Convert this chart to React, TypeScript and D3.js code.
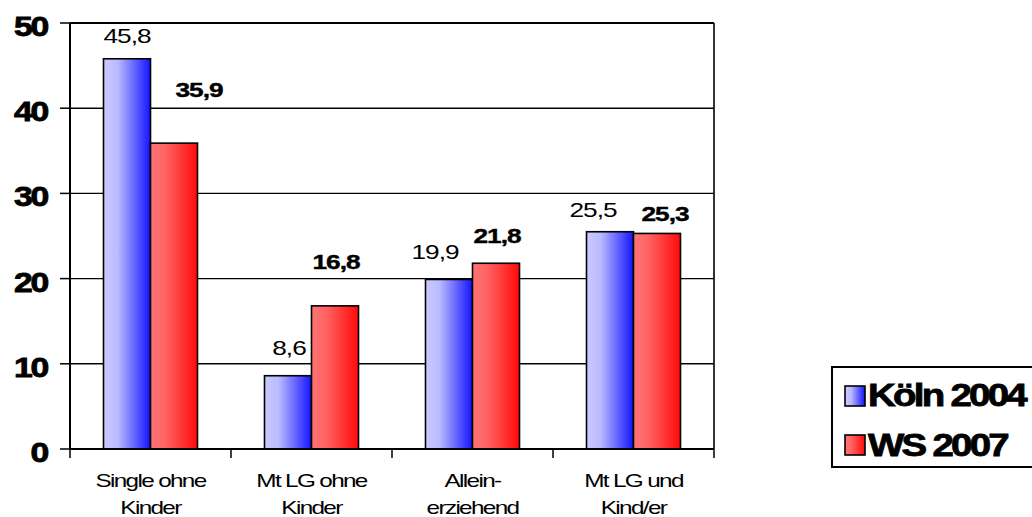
import React from "react";
import * as d3 from "d3";

// Household types and shares (%) per survey
const categories = [
  ["Single ohne", "Kinder"],
  ["Mt LG ohne", "Kinder"],
  ["Allein-", "erziehend"],
  ["Mt LG und", "Kind/er"],
];
const koeln2004 = [45.8, 8.6, 19.9, 25.5];
const ws2007 = [35.9, 16.8, 21.8, 25.3];
const seriesNames = ["Köln 2004", "WS 2007"];
const yTicks = [0, 10, 20, 30, 40, 50];

// Hand-placed value label nudges (px): horizontal shift, gap above bar top
const koelnLabelDx = [0, 1, -14, -17];
const koelnLabelGap = [16, 21, 20, 15];
const wsLabelDx = [25, 1, 1, 8];
const wsLabelGap = [46, 37, 20, 12];

const W = 1032;
const H = 517;
const plot = { left: 70, right: 714, top: 23, bottom: 449 };
const FONT = "'Liberation Sans', Arial, sans-serif";

const fmt = (v: number) => v.toFixed(1).replace(".", ",");

export default function App() {
  const x = d3
    .scaleBand<number>()
    .domain(d3.range(categories.length))
    .range([plot.left, plot.right]);
  const inner = d3
    .scaleBand<number>()
    .domain([0, 1])
    .range([0, 94]);
  const y = d3.scaleLinear().domain([0, 50]).range([plot.bottom, plot.top]);
  const groupOffset = (x.bandwidth() - 94) / 2;

  const series = [
    { values: koeln2004, fill: "url(#gradBlue)", bold: false, dx: koelnLabelDx, gap: koelnLabelGap },
    { values: ws2007, fill: "url(#gradRed)", bold: true, dx: wsLabelDx, gap: wsLabelGap },
  ];

  const stretched = (
    tx: number,
    ty: number,
    sx: number,
    content: string,
    props: any
  ) => (
    <text transform={`translate(${tx},${ty}) scale(${sx},1)`} {...props}>
      {content}
    </text>
  );

  return (
    <svg
      width={W}
      height={H}
      style={{ position: "absolute", left: 0, top: 0, background: "#fff" }}
      fontFamily={FONT}
    >
      <defs>
        <linearGradient id="gradBlue" x1="0" x2="1" y1="0" y2="0">
          <stop offset="0" stopColor="#cacaff" />
          <stop offset="0.3" stopColor="#babaff" />
          <stop offset="1" stopColor="#1414ff" />
        </linearGradient>
        <linearGradient id="gradRed" x1="0" x2="1" y1="0" y2="0">
          <stop offset="0" stopColor="#ff7474" />
          <stop offset="0.3" stopColor="#ff6464" />
          <stop offset="1" stopColor="#ff0a0a" />
        </linearGradient>
      </defs>

      {/* gridlines */}
      {yTicks.slice(1, -1).map((t) => (
        <line
          key={t}
          x1={plot.left}
          x2={plot.right}
          y1={y(t)}
          y2={y(t)}
          stroke="#000"
          strokeWidth={1.4}
        />
      ))}
      {/* plot frame: top and right */}
      <line x1={plot.left} x2={plot.right} y1={plot.top} y2={plot.top} stroke="#000" strokeWidth={2} />
      <line x1={plot.right} x2={plot.right} y1={plot.top} y2={plot.bottom} stroke="#000" strokeWidth={1.6} />

      {/* bars */}
      {series.map((s, si) =>
        s.values.map((v, i) => {
          const bx = (x(i) as number) + groupOffset + (inner(si) as number);
          return (
            <rect
              key={`${si}-${i}`}
              x={bx}
              y={y(v)}
              width={inner.bandwidth()}
              height={y(0) - y(v)}
              fill={s.fill}
              stroke="#000"
              strokeWidth={1.6}
            />
          );
        })
      )}

      {/* value labels */}
      {series.map((s, si) =>
        s.values.map((v, i) => {
          const cx =
            (x(i) as number) + groupOffset + (inner(si) as number) + inner.bandwidth() / 2 + s.dx[i];
          return (
            <g key={`l${si}-${i}`}>
              {stretched(cx, y(v) - s.gap[i], 1.25, fmt(v), {
                textAnchor: "middle",
                fontSize: 21,
                fontWeight: s.bold ? "bold" : "normal",
                fill: "#000",
                stroke: s.bold ? "#000" : "none",
                strokeWidth: 0.4,
                letterSpacing: -0.8,
              })}
            </g>
          );
        })
      )}

      {/* y axis */}
      <line x1={plot.left} x2={plot.left} y1={plot.top} y2={plot.bottom} stroke="#000" strokeWidth={2} />
      {yTicks.map((t) => (
        <g key={t}>
          <line x1={plot.left - 10} x2={plot.left} y1={y(t)} y2={y(t)} stroke="#000" strokeWidth={1.5} />
          {stretched(47, y(t) + 13, 1.25, String(t), {
            textAnchor: "end",
            fontSize: 27,
            fontWeight: "bold",
            stroke: "#000",
            strokeWidth: 0.8,
            letterSpacing: -1.8,
          })}
        </g>
      ))}

      {/* x axis */}
      <line x1={plot.left} x2={plot.right} y1={plot.bottom} y2={plot.bottom} stroke="#000" strokeWidth={2} />
      {d3.range(categories.length + 1).map((k) => {
        const tx = k < categories.length ? (x(k) as number) : plot.right;
        return <line key={k} x1={tx} x2={tx} y1={plot.bottom} y2={plot.bottom + 9} stroke="#000" strokeWidth={1.5} />;
      })}
      {categories.map((lines, i) => {
        const cx = (x(i) as number) + x.bandwidth() / 2;
        return (
          <g key={i}>
            {lines.map((ln, li) => (
              <g key={li}>
                {stretched(cx, 487 + li * 27, 1.28, ln, {
                  textAnchor: "middle",
                  fontSize: 19,
                  letterSpacing: -1.3,
                })}
              </g>
            ))}
          </g>
        );
      })}

      {/* legend */}
      <rect x={832} y={367} width={240} height={100} fill="#fff" stroke="#000" strokeWidth={2} />
      {seriesNames.map((name, i) => (
        <g key={name}>
          <rect
            x={845}
            y={386 + i * 49}
            width={20}
            height={20}
            fill={series[i].fill}
            stroke="#000"
            strokeWidth={1.6}
          />
          {stretched(868, 406 + i * 50, 1.24, name, {
            fontSize: 31,
            fontWeight: "bold",
            stroke: "#000",
            strokeWidth: 0.8,
            letterSpacing: -2.2,
          })}
        </g>
      ))}
    </svg>
  );
}
